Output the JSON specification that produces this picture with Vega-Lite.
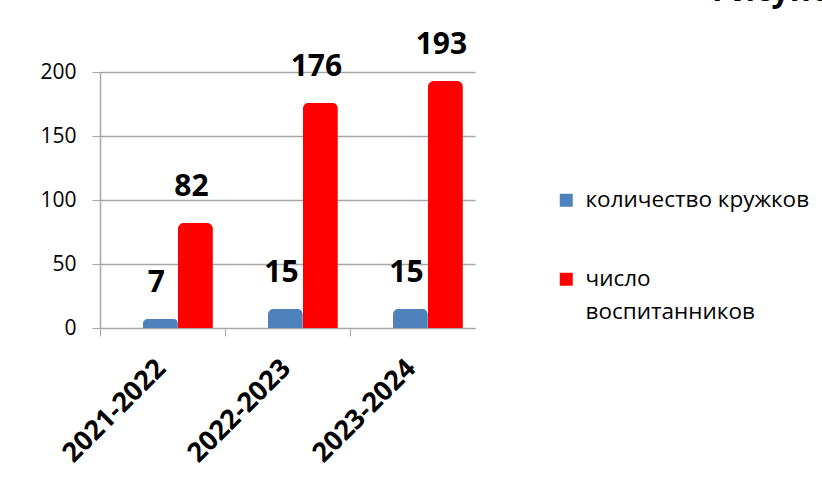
{
  "$schema": "https://vega.github.io/schema/vega-lite/v6.json",
  "autosize": {"type": "none"},
  "padding": {"left": 100, "top": 72, "right": 347, "bottom": 162},
  "width": 375,
  "height": 256,
  "background": "white",
  "title": {
    "text": "Рисунок",
    "anchor": "start",
    "frame": "group",
    "dx": 612,
    "dy": 7,
    "baseline": "alphabetic",
    "fontSize": 32,
    "fontWeight": "bold",
    "font": "Open Sans",
    "color": "black"
  },
  "config": {
    "font": "Open Sans",
    "view": {"stroke": null},
    "style": {"guide-label": {"lineHeight": 33}}
  },
  "data": {
    "values": [
      {"year": "2021-2022", "series": "количество кружков", "value": 7},
      {"year": "2021-2022", "series": "число воспитанников", "value": 82},
      {"year": "2022-2023", "series": "количество кружков", "value": 15},
      {"year": "2022-2023", "series": "число воспитанников", "value": 176},
      {"year": "2023-2024", "series": "количество кружков", "value": 15},
      {"year": "2023-2024", "series": "число воспитанников", "value": 193}
    ]
  },
  "encoding": {
    "x": {
      "field": "year", "type": "nominal",
      "scale": {"paddingInner": 0.44, "paddingOuter": 0.22, "align": 0.78},
      "axis": {
        "title": null, "labelAngle": -45, "labelAlign": "right", "labelBaseline": "middle",
        "labelFontSize": 27, "labelFontWeight": "bold", "labelColor": "black",
        "bandPosition": 0, "tickOffset": -43, "labelOffset": 26,
        "labelPadding": 28, "domainColor": "#a6a6a6", "tickColor": "#a6a6a6", "tickSize": 8
      }
    },
    "xOffset": {"field": "series", "type": "nominal", "scale": {"paddingInner": 0}},
    "y": {
      "field": "value", "type": "quantitative",
      "scale": {"domain": [0, 200]},
      "axis": {
        "title": null, "values": [0, 50, 100, 150, 200], "labelFontSize": 21, "labelColor": "black",
        "gridColor": "#a6a6a6", "gridWidth": 1.5, "domainColor": "#a6a6a6", "tickColor": "#a6a6a6",
        "tickSize": 8, "labelPadding": 16, "domainWidth": 1.5
      }
    }
  },
  "layer": [
    {
      "mark": {"type": "bar", "cornerRadiusTopLeft": 6, "cornerRadiusTopRight": 6},
      "encoding": {
        "color": {
          "field": "series", "type": "nominal",
          "scale": {"domain": ["количество кружков", "число воспитанников"], "range": ["#4f81bd", "#ff0000"]},
          "legend": {
            "title": null, "orient": "none", "legendX": 455, "legendY": 117,
            "symbolType": "square", "symbolSize": 169, "symbolStrokeWidth": 0,
            "labelFontSize": 22.5, "labelColor": "black",
            "labelLimit": 400, "rowPadding": 56, "labelOffset": 8,
            "labelExpr": "datum.label == 'число воспитанников' ? ['число', 'воспитанников'] : datum.label",
            "labelBaseline": "middle"
          }
        }
      }
    },
    {
      "mark": {"type": "text", "baseline": "alphabetic", "dy": -27, "dx": -4, "fontSize": 30, "fontWeight": "bold", "color": "black"},
      "encoding": {"text": {"field": "value", "type": "quantitative"}}
    }
  ]
}
